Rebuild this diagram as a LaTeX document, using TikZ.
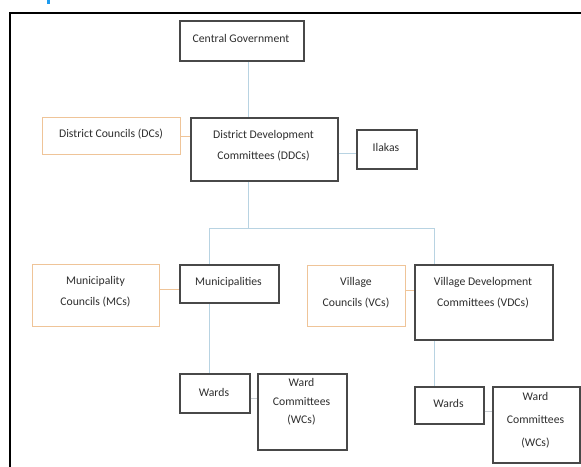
\documentclass[tikz,border=0pt]{standalone}
\usepackage{fontspec}
\setmainfont{Carlito}
\definecolor{boxc}{HTML}{484848}
\definecolor{orc}{HTML}{EFC498}
\definecolor{blc}{HTML}{B8D3E2}
\definecolor{grc}{HTML}{C8CDD2}
\definecolor{txtc}{HTML}{2E2E2E}
\definecolor{markc}{HTML}{1E9BEF}
\begin{document}
\begin{tikzpicture}[x=1pt,y=-1pt,
  box/.style={draw=boxc,line width=1.5pt,fill=white,anchor=north west,inner sep=0pt},
  obox/.style={draw=orc,line width=1.2pt,fill=white,anchor=north west,inner sep=0pt},
  txt/.style={font=\fontsize{11.7}{21}\selectfont,align=center,text=txtc,inner sep=0pt},
  bl/.style={draw=blc,line width=1pt},
  ol/.style={draw=orc,line width=1pt},
  gl/.style={draw=grc,line width=1pt}]
\useasboundingbox (0,0) rectangle (581,466);
\fill[white] (0,0) rectangle (581,466);
\fill[fill=markc] (47,0) rectangle (49.5,4);
\draw[black,line width=2pt] (10,480) -- (10,13) -- (600,13);
% junction coordinates
\coordinate (jx) at (248,228);
\coordinate (lx) at (209,228);
\coordinate (rx) at (434,228);
% connectors first (boxes drawn over)
\draw[bl] (248,60) coordinate (c1) -- (248,117) coordinate (c2);
\draw[bl] (248,180) coordinate (c3) -- (jx);
\draw[bl] (lx) -- (rx);
\draw[bl] (lx) -- (209,373) coordinate (c4);
\draw[bl] (rx) -- (434,386) coordinate (c5);
% boxes
\node[box,minimum width=124pt,minimum height=40pt] (cg) at (179,20) {};
\node[obox,minimum width=138pt,minimum height=37pt] (dc) at (42,117) {};
\node[box,minimum width=147pt,minimum height=63pt] (ddc) at (190,117) {};
\node[box,minimum width=60pt,minimum height=39pt] (ila) at (356,129) {};
\node[obox,minimum width=127pt,minimum height=62pt] (mc) at (32,264) {};
\node[box,minimum width=99pt,minimum height=38pt] (mun) at (179,264) {};
\node[obox,minimum width=98pt,minimum height=61pt] (vc) at (307,265) {};
\node[box,minimum width=138pt,minimum height=75pt] (vdc) at (414,264) {};
\node[box,minimum width=70pt,minimum height=39pt] (w1) at (179,373) {};
\node[box,minimum width=89pt,minimum height=76pt] (wc1) at (257,373) {};
\node[box,minimum width=69pt,minimum height=37pt] (w2) at (414,386) {};
\node[box,minimum width=87pt,minimum height=76pt] (wc2) at (492,386) {};
% side connectors
\draw[ol] (dc.east) -- (dc.east -| ddc.west);
\draw[bl] (ddc.east |- 0,153) -- (ila.west |- 0,153);
\draw[ol] (mc.east |- 0,289) -- (mun.west |- 0,289);
\draw[ol] (vc.east |- 0,290) -- (vdc.west |- 0,290);
\draw[gl] (w1.east |- 0,398) -- (wc1.west |- 0,398);
\draw[gl] (w2.east |- 0,411) -- (wc2.west |- 0,411);
% texts
\node[txt] (cgt) at (241,38) {Central Government};
\node[txt] (dct) at (111,134) {District Councils (DCs)};
\node[txt] (ddct) at (263.5,146) {District Development\\Committees (DDCs)};
\node[txt] (ilat) at (386,147) {Ilakas};
\node[txt] (mct) at (95.5,292) {Municipality\\Councils (MCs)};
\node[txt] (munt) at (228.5,282) {Municipalities};
\node[txt] (vct) at (356,293) {Village\\Councils (VCs)};
\node[txt] (vdct) at (483,293) {Village Development\\Committees (VDCs)};
\node[txt] (w1t) at (214,392) {Wards};
\node[txt,font=\fontsize{11.7}{18.5}\selectfont] (wc1t) at (301.5,402) {Ward\\Committees\\(WCs)};
\node[txt,font=\fontsize{11.7}{23}\selectfont] (wc2t) at (535.5,420) {Ward\\Committees\\(WCs)};
\node[txt] (w2t) at (448.5,403) {Wards};
\end{tikzpicture}
\end{document}
